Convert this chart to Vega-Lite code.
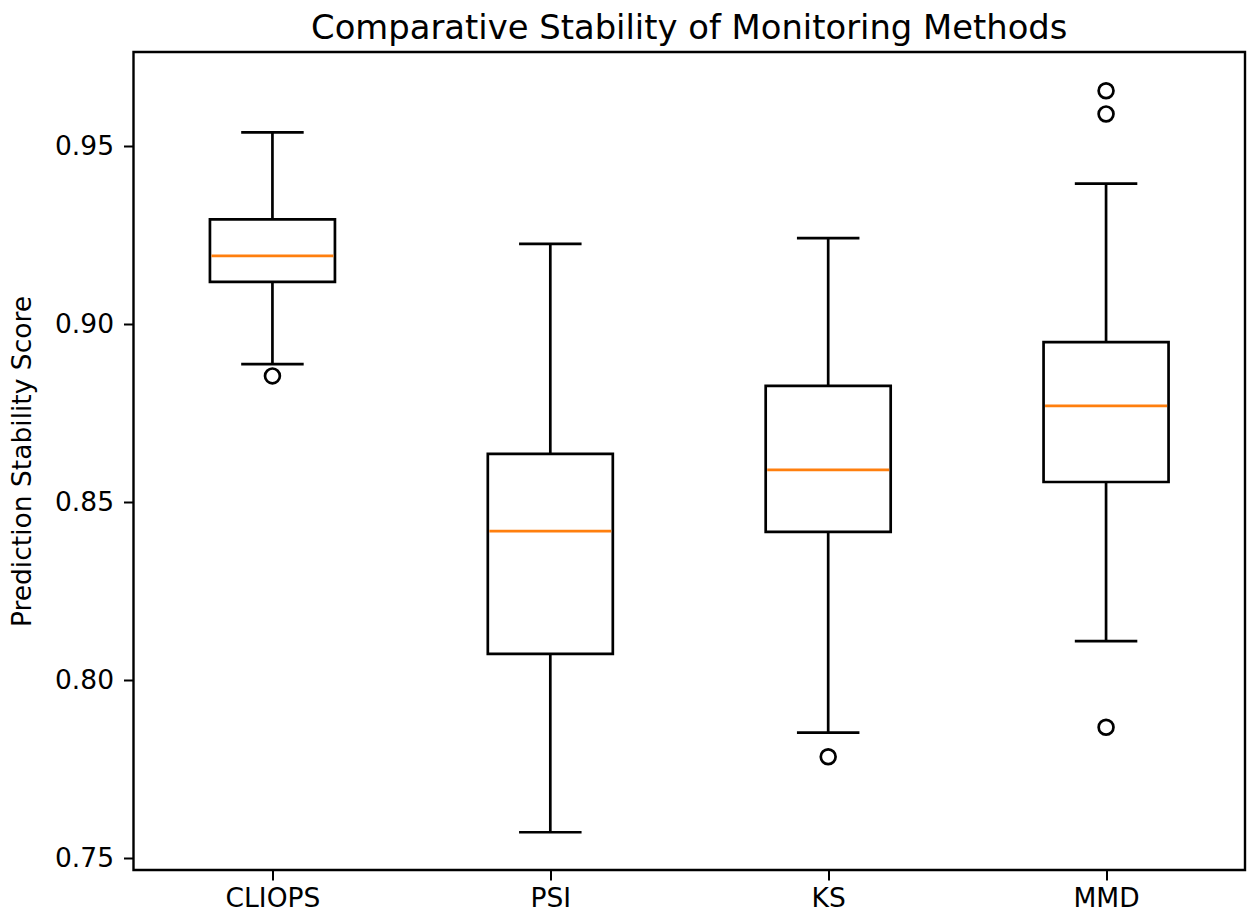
{
  "$schema": "https://vega.github.io/schema/vega-lite/v6.json",
  "autosize": {"type": "none"},
  "padding": {"left": 133.5, "top": 52, "right": 2, "bottom": 47},
  "width": 1111.5,
  "height": 818,
  "background": "white",
  "title": {
    "text": "Comparative Stability of Monitoring Methods",
    "font": "DejaVu Sans",
    "fontSize": 33.8,
    "fontWeight": "normal",
    "color": "black",
    "anchor": "middle",
    "frame": "group",
    "baseline": "bottom",
    "offset": 9,
    "dy": 37
  },
  "config": {
    "view": {"stroke": "black", "strokeWidth": 2.4},
    "axis": {
      "labelFont": "DejaVu Sans",
      "titleFont": "DejaVu Sans",
      "labelColor": "black",
      "titleColor": "black",
      "tickColor": "black",
      "grid": false,
      "domain": false,
      "tickSize": 10,
      "tickWidth": 2,
      "labelFontSize": 26.5,
      "titleFontSize": 26.5,
      "titleFontWeight": "normal"
    }
  },
  "datasets": {
    "boxes": [
      {"method": "CLIOPS", "lower": 0.8888, "q1": 0.9119, "median": 0.9192, "q3": 0.9295, "upper": 0.9539},
      {"method": "PSI", "lower": 0.7573, "q1": 0.8074, "median": 0.8419, "q3": 0.8636, "upper": 0.9226},
      {"method": "KS", "lower": 0.7853, "q1": 0.8417, "median": 0.8591, "q3": 0.8827, "upper": 0.9242},
      {"method": "MMD", "lower": 0.8110, "q1": 0.8557, "median": 0.8771, "q3": 0.8950, "upper": 0.9395}
    ],
    "outliers": [
      {"method": "CLIOPS", "value": 0.8855},
      {"method": "KS", "value": 0.7785},
      {"method": "MMD", "value": 0.9656},
      {"method": "MMD", "value": 0.9591},
      {"method": "MMD", "value": 0.7868}
    ]
  },
  "encoding": {
    "x": {
      "field": "method",
      "type": "nominal",
      "sort": ["CLIOPS", "PSI", "KS", "MMD"],
      "scale": {"type": "point", "padding": 0.5, "domain": ["CLIOPS", "PSI", "KS", "MMD"]},
      "axis": {"title": null, "labelAngle": 0, "labelPadding": 5}
    }
  },
  "layer": [
    {
      "data": {"name": "boxes"},
      "mark": {"type": "rule", "color": "black", "strokeWidth": 2.7},
      "encoding": {
        "y": {
          "field": "lower",
          "type": "quantitative",
          "scale": {"domain": [0.7467, 0.9765], "nice": false, "zero": false},
          "axis": {
            "title": "Prediction Stability Score",
            "values": [0.75, 0.8, 0.85, 0.9, 0.95],
            "format": ".2f",
            "labelPadding": 10,
            "titlePadding": 18
          }
        },
        "y2": {"field": "q1"}
      }
    },
    {
      "data": {"name": "boxes"},
      "mark": {"type": "rule", "color": "black", "strokeWidth": 2.7},
      "encoding": {
        "y": {"field": "q3", "type": "quantitative"},
        "y2": {"field": "upper"}
      }
    },
    {
      "data": {"name": "boxes"},
      "mark": {"type": "bar", "width": 125, "fill": "white", "stroke": "black", "strokeWidth": 2.7},
      "encoding": {
        "y": {"field": "q1", "type": "quantitative"},
        "y2": {"field": "q3"}
      }
    },
    {
      "data": {"name": "boxes"},
      "mark": {"type": "tick", "color": "#ff7f0e", "size": 122, "thickness": 2.7, "opacity": 1},
      "encoding": {
        "y": {"field": "median", "type": "quantitative"}
      }
    },
    {
      "data": {"name": "boxes"},
      "mark": {"type": "tick", "color": "black", "size": 62.5, "thickness": 2.7, "opacity": 1},
      "encoding": {
        "y": {"field": "lower", "type": "quantitative"}
      }
    },
    {
      "data": {"name": "boxes"},
      "mark": {"type": "tick", "color": "black", "size": 62.5, "thickness": 2.7, "opacity": 1},
      "encoding": {
        "y": {"field": "upper", "type": "quantitative"}
      }
    },
    {
      "data": {"name": "outliers"},
      "mark": {"type": "point", "shape": "circle", "filled": false, "stroke": "black", "strokeWidth": 2.7, "size": 220, "opacity": 1},
      "encoding": {
        "y": {"field": "value", "type": "quantitative"}
      }
    }
  ]
}
